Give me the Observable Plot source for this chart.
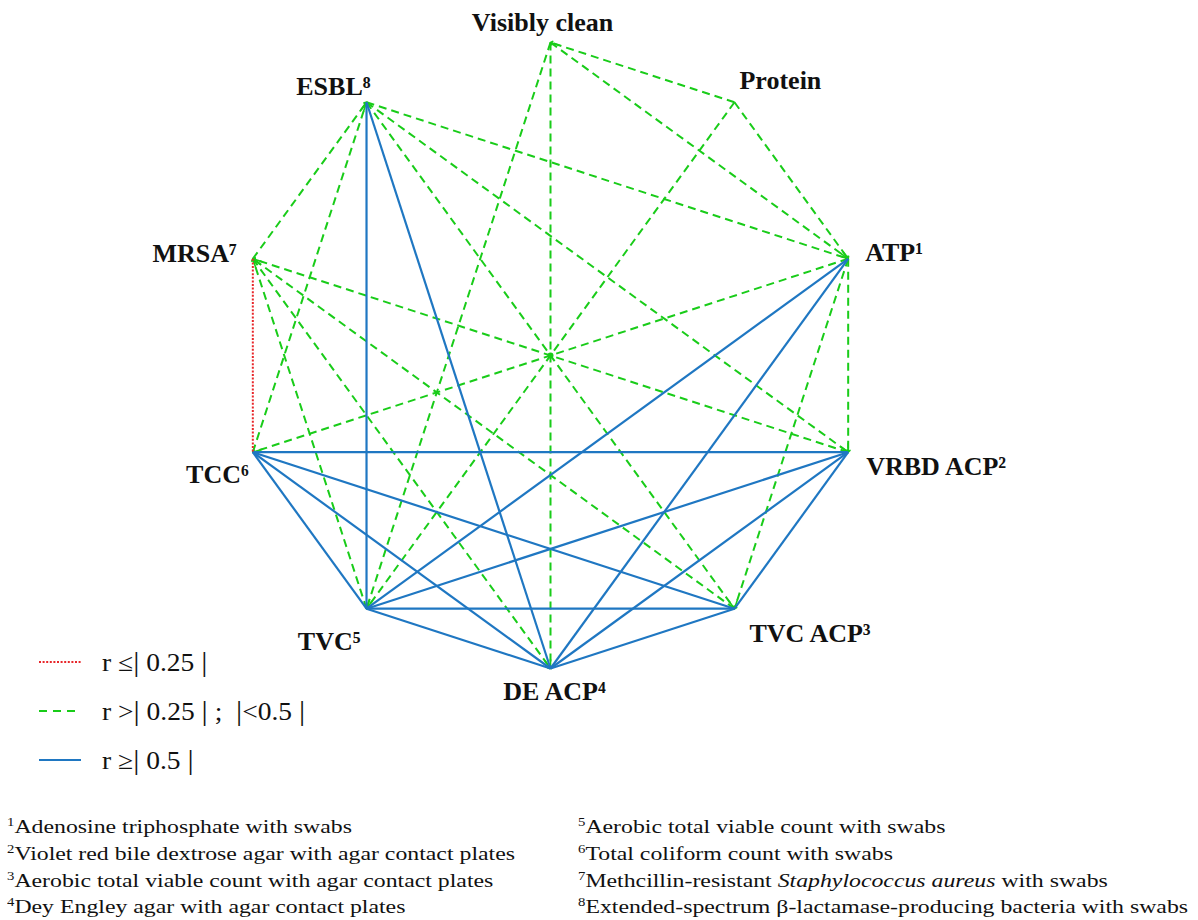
<!DOCTYPE html>
<html>
<head>
<meta charset="utf-8">
<script src="https://cdn.jsdelivr.net/npm/d3@7"></script>
<script src="https://cdn.jsdelivr.net/npm/@observablehq/plot@0.6"></script>
<style>
  html, body { margin: 0; padding: 0; background: #fff; }
  body { width: 1198px; height: 920px; position: relative; overflow: hidden; font-family: "Liberation Serif", "DejaVu Serif", serif; color: #111; }
  #chart { position: absolute; left: 0; top: 0; }
  #legend { position: absolute; left: 38px; top: 637px; font-size: 25px; }
  #legend .row { display: flex; align-items: center; height: 49px; }
  #legend svg { margin-right: 20px; }
  #legend .txt { display: inline-block; transform: scaleX(1.1); transform-origin: left center; white-space: pre; }
  #legend .bar { font-size: 1.12em; }
  .notes { position: absolute; top: 814px; font-size: 19.5px; line-height: 26.8px; white-space: nowrap; transform: scaleX(1.22); transform-origin: left top; }
  .notes sup { font-size: 0.62em; vertical-align: 0.62em; line-height: 0; }
</style>
</head>
<body>
<div id="chart"></div>
<div id="legend"></div>
<div class="notes" id="notesLeft" style="left:7px"></div>
<div class="notes" id="notesRight" style="left:578px"></div>
<script>
// ---------- data ----------
const nodeNames = ["Visibly clean", "Protein", "ATP", "VRBD ACP", "TVC ACP", "DE ACP", "TVC", "TCC", "MRSA", "ESBL"];
const nodeNotes = ["", "", "¹", "²", "³", "⁴", "⁵", "⁶", "⁷", "⁸"];

// r >= |0.5|
const strongEdges = [
  ["ESBL", "TVC"], ["ESBL", "DE ACP"],
  ["TCC", "VRBD ACP"], ["TCC", "TVC ACP"], ["TCC", "DE ACP"], ["TCC", "TVC"],
  ["TVC", "ATP"], ["TVC", "VRBD ACP"], ["TVC", "TVC ACP"], ["TVC", "DE ACP"],
  ["DE ACP", "ATP"], ["DE ACP", "VRBD ACP"], ["DE ACP", "TVC ACP"],
  ["VRBD ACP", "TVC ACP"]
];
// |0.25| < r < |0.5|  (arrow head at second node)
const moderateEdges = [
  ["Protein", "Visibly clean"], ["Visibly clean", "ATP"], ["Visibly clean", "DE ACP"], ["Visibly clean", "TVC"],
  ["Protein", "ATP"], ["Protein", "TVC"],
  ["MRSA", "ESBL"], ["TCC", "ESBL"], ["ESBL", "ATP"], ["ESBL", "VRBD ACP"], ["ESBL", "TVC ACP"],
  ["VRBD ACP", "MRSA"], ["TVC ACP", "MRSA"], ["MRSA", "DE ACP"], ["TVC", "MRSA"],
  ["ATP", "TCC"], ["ATP", "VRBD ACP"], ["ATP", "TVC ACP"]
];
// r <= |0.25|
const weakEdges = [["MRSA", "TCC"]];

const legendLabels = [
  ["r ≤", "0.25", ""],
  ["r >", "0.25", " ;  |<0.5 |"],
  ["r ≥", "0.5", ""]
];
const notesLeft = [
  ["1", "Adenosine triphosphate with swabs"],
  ["2", "Violet red bile dextrose agar with agar contact plates"],
  ["3", "Aerobic total viable count with agar contact plates"],
  ["4", "Dey Engley agar with agar contact plates"]
];
const notesRight = [
  ["5", "Aerobic total viable count with swabs"],
  ["6", "Total coliform count with swabs"],
  ["7", "Methcillin-resistant <i>Staphylococcus aureus</i> with swabs"],
  ["8", "Extended-spectrum β-lactamase-producing bacteria with swabs"]
];

// ---------- styling ----------
const GREEN = "#19cc19", BLUE = "#1f77c2", RED = "#e8262a";

// nodes on a unit circle (decagon), first node at top, clockwise
const nodes = nodeNames.map((name, i) => {
  const a = (90 - i * 36) * Math.PI / 180;
  return {name, label: name + nodeNotes[i], x: Math.cos(a), y: Math.sin(a)};
});
const byName = new Map(nodes.map(d => [d.name, d]));
const toLinks = (list) => list.map(([a, b]) => {
  const s = byName.get(a), t = byName.get(b);
  return {x1: s.x, y1: s.y, x2: t.x, y2: t.y,
          rot: Math.atan2(t.x - s.x, t.y - s.y) * 180 / Math.PI};
});
const strong = toLinks(strongEdges), moderate = toLinks(moderateEdges), weak = toLinks(weakEdges);
const hub = [{x: d3.mean(nodes, d => d.x), y: d3.mean(nodes, d => d.y)}];

// scale: radius 313px, center at (550, 355)
const W = 1198, H = 800, R = 313, CX = 550, CY = 355;

const labelLayout = {
  "Visibly clean": {dx: -8, dy: -20, anchor: "middle"},
  "Protein": {dx: 5, dy: -22, anchor: "start"},
  "ATP": {dx: 17, dy: -6, anchor: "start"},
  "VRBD ACP": {dx: 18, dy: 14, anchor: "start"},
  "TVC ACP": {dx: 15, dy: 25, anchor: "start"},
  "DE ACP": {dx: 4, dy: 23, anchor: "middle"},
  "TVC": {dx: -6, dy: 33, anchor: "end"},
  "TCC": {dx: -4, dy: 22, anchor: "end"},
  "MRSA": {dx: -16, dy: -5, anchor: "end"},
  "ESBL": {dx: 4, dy: -16, anchor: "end"}
};

const labelMarks = nodes.map(n => {
  const L = labelLayout[n.name];
  return Plot.text([n], {x: "x", y: "y", text: "label", dx: L.dx, dy: L.dy, textAnchor: L.anchor,
    fontSize: 26, fontWeight: "bold", fill: "#111", fontFamily: "Liberation Serif"});
});

const chart = Plot.plot({
  width: W, height: H, margin: 0,
  style: {background: "white", fontFamily: "Liberation Serif"},
  x: {domain: [-CX / R, (W - CX) / R], range: [0, W], axis: null},
  y: {domain: [-(H - CY) / R, CY / R], range: [H, 0], axis: null},
  marks: [
    Plot.link(moderate, {x1: "x1", y1: "y1", x2: "x2", y2: "y2", stroke: GREEN, strokeWidth: 2, strokeDasharray: "8,5"}),
    Plot.vector(moderate, {x: "x2", y: "y2", rotate: "rot", length: 9, anchor: "end", shape: "arrow", stroke: GREEN, strokeWidth: 1.6}),
    Plot.dot(hub, {x: "x", y: "y", r: 3, fill: GREEN}),
    Plot.link(strong, {x1: "x1", y1: "y1", x2: "x2", y2: "y2", stroke: BLUE, strokeWidth: 2.2}),
    Plot.link(weak, {x1: "x1", y1: "y1", x2: "x2", y2: "y2", stroke: RED, strokeWidth: 2, strokeDasharray: "2,1.6"}),
    ...labelMarks
  ]
});
document.getElementById("chart").appendChild(chart);

// legend
const legendStyles = [
  {stroke: RED, dash: "2,1.6"},
  {stroke: GREEN, dash: "8,6"},
  {stroke: BLUE, dash: null}
];
const legend = document.getElementById("legend");
legendLabels.forEach(([pre, val, post], i) => {
  const s = legendStyles[i];
  const row = document.createElement("div");
  row.className = "row";
  row.innerHTML = `<svg width="44" height="6"><line x1="1" y1="3" x2="43" y2="3" stroke="${s.stroke}" stroke-width="2.2" ${s.dash ? `stroke-dasharray="${s.dash}"` : ""}/></svg><span class="txt">${pre}<span class="bar">|</span> ${val} <span class="bar">|</span>${post.replace(/\|/g, '<span class="bar">|</span>')}</span>`;
  legend.appendChild(row);
});

// footnotes
const fill = (id, list) => {
  document.getElementById(id).innerHTML = list.map(([n, t]) => `<div><sup>${n}</sup>${t}</div>`).join("");
};
fill("notesLeft", notesLeft);
fill("notesRight", notesRight);
</script>
</body>
</html>
